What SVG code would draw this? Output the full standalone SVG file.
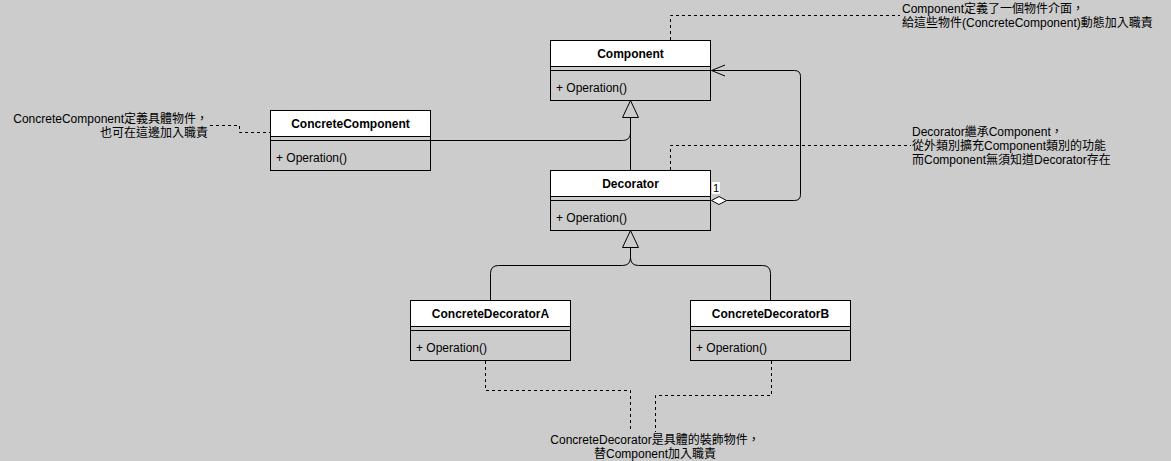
<svg xmlns="http://www.w3.org/2000/svg" width="1171" height="461" viewBox="0 0 1171 461">
<style>
text{font-family:"Liberation Sans","Noto Sans CJK TC",sans-serif;font-size:12px;fill:#000}
.title{font-weight:bold;text-anchor:middle}
.hdr{fill:#fff;stroke:#000;stroke-width:1}
.box{fill:none;stroke:#000;stroke-width:1}
.ln{stroke:#000;stroke-width:1;fill:none}
.dash{stroke:#000;stroke-width:1;fill:none;stroke-dasharray:3 3}
.tri{fill:none;stroke:#000;stroke-width:1}
</style>
<rect x="0" y="0" width="1171" height="461" fill="#cccccc"/>

<g id="connectors">
  <!-- ConcreteComponent -> Component (generalization) -->
  <path class="ln" d="M430.5,140.5 H622.5 Q630.5,140.5 630.5,132.5 V117.5"/>
  <!-- Decorator -> Component (generalization) -->
  <path class="ln" d="M630.5,170.5 V117.5"/>
  <path class="tri" d="M630.5,100.5 L638.5,117.5 L622.5,117.5 Z"/>
  <!-- ConcreteDecoratorA/B -> Decorator -->
  <path class="ln" d="M490.5,300.5 V273.5 Q490.5,265.5 498.5,265.5 H622.5 Q630.5,265.5 630.5,257.5 V247.5"/>
  <path class="ln" d="M770.5,300.5 V273.5 Q770.5,265.5 762.5,265.5 H638.5 Q630.5,265.5 630.5,257.5 V247.5"/>
  <path class="tri" d="M630.5,230.5 L638.5,247.5 L622.5,247.5 Z"/>
  <!-- Aggregation Decorator -> Component -->
  <path class="ln" d="M726.5,200.5 H794.5 Q800.5,200.5 800.5,194.5 V76.5 Q800.5,70.5 794.5,70.5 H711.5"/>
  <path class="ln" d="M725,65 L711.5,70.5 L725,76"/>
  <path d="M711.5,200.5 L719,196.5 L726.5,200.5 L719,204.5 Z" fill="#fff" stroke="#000" stroke-width="1"/>
  <rect x="712" y="182" width="8" height="12" fill="#fff"/>
  <text x="713" y="192" style="font-size:11px">1</text>
  <!-- note links -->
  <path class="dash" d="M670.5,40 V15.5 H900"/>
  <path class="dash" d="M210,125.5 H239.5 V132.5 H278"/>
  <path class="dash" d="M670.5,170 V145.5 H911"/>
  <path class="dash" d="M485.5,361 V390.5 H630.5 V432"/>
  <path class="dash" d="M771.5,361 V395.5 H655.5 V432"/>
</g>

<g id="Component">
  <rect class="hdr" x="550.5" y="40.5" width="160" height="26"/>
  <rect class="box" x="550.5" y="40.5" width="160" height="60"/>
  <line class="ln" x1="550.5" y1="70.5" x2="710.5" y2="70.5"/>
  <text class="title" x="630.5" y="57.5">Component</text>
  <text x="556" y="92">+ Operation()</text>
</g>

<g id="ConcreteComponent">
  <rect class="hdr" x="270.5" y="110.5" width="160" height="26"/>
  <rect class="box" x="270.5" y="110.5" width="160" height="60"/>
  <line class="ln" x1="270.5" y1="140.5" x2="430.5" y2="140.5"/>
  <text class="title" x="350.5" y="127.5">ConcreteComponent</text>
  <text x="276" y="162">+ Operation()</text>
</g>

<g id="Decorator">
  <rect class="hdr" x="550.5" y="170.5" width="160" height="26"/>
  <rect class="box" x="550.5" y="170.5" width="160" height="60"/>
  <line class="ln" x1="550.5" y1="200.5" x2="710.5" y2="200.5"/>
  <text class="title" x="630.5" y="187.5">Decorator</text>
  <text x="556" y="222">+ Operation()</text>
</g>

<g id="ConcreteDecoratorA">
  <rect class="hdr" x="410.5" y="300.5" width="160" height="26"/>
  <rect class="box" x="410.5" y="300.5" width="160" height="60"/>
  <line class="ln" x1="410.5" y1="330.5" x2="570.5" y2="330.5"/>
  <text class="title" x="490.5" y="317.5">ConcreteDecoratorA</text>
  <text x="416" y="352">+ Operation()</text>
</g>

<g id="ConcreteDecoratorB">
  <rect class="hdr" x="690.5" y="300.5" width="160" height="26"/>
  <rect class="box" x="690.5" y="300.5" width="160" height="60"/>
  <line class="ln" x1="690.5" y1="330.5" x2="850.5" y2="330.5"/>
  <text class="title" x="770.5" y="317.5">ConcreteDecoratorB</text>
  <text x="696" y="352">+ Operation()</text>
</g>

<g id="note-component">
  <text x="902" y="12.5">Component定義了一個物件介面，</text>
  <text x="902" y="27">給這些物件(ConcreteComponent)動態加入職責</text>
</g>

<g id="note-concretecomponent" text-anchor="end">
  <text x="208" y="123">ConcreteComponent定義具體物件，</text>
  <text x="208" y="137">也可在這邊加入職責</text>
</g>

<g id="note-decorator">
  <text x="912" y="135.5">Decorator繼承Component，</text>
  <text x="912" y="149.5">從外類別擴充Component類別的功能</text>
  <text x="912" y="163.5">而Component無須知道Decorator存在</text>
</g>

<g id="note-concretedecorator" text-anchor="middle">
  <text x="655" y="444">ConcreteDecorator是具體的裝飾物件，</text>
  <text x="655" y="458">替Component加入職責</text>
</g>
</svg>
